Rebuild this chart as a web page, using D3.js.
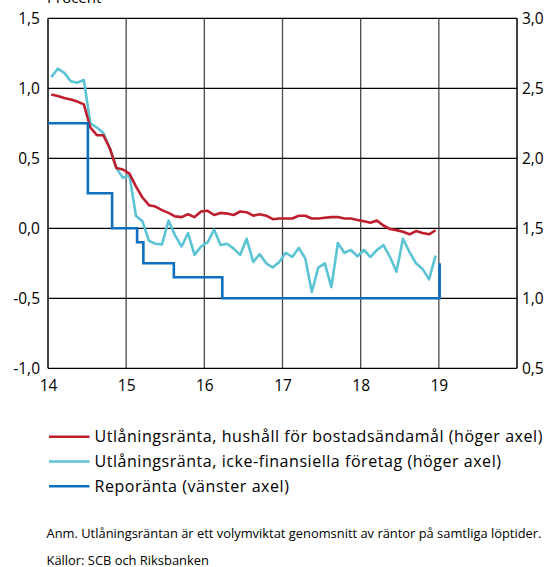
<!DOCTYPE html>
<html>
<head>
<meta charset="utf-8">
<script src="https://cdn.jsdelivr.net/npm/d3@7"></script>
<style>
  html, body { margin: 0; padding: 0; background: #fff; }
  svg { display: block; }
  text { font-family: "Open Sans", "Liberation Sans", sans-serif; fill: #000; }
</style>
</head>
<body>
<svg id="chart" width="547" height="567"></svg>
<script>
// Monthly lending rates, Jan 2014 – Dec 2018 (percent, right axis)
const householdRate = [
  2.455, 2.445, 2.43, 2.42, 2.405, 2.385, 2.22, 2.165, 2.165, 2.07, 1.93, 1.92,
  1.89, 1.80, 1.72, 1.665, 1.655, 1.63, 1.61, 1.585, 1.58, 1.60, 1.58, 1.62,
  1.625, 1.595, 1.61, 1.605, 1.595, 1.62, 1.615, 1.59, 1.60, 1.59, 1.565, 1.57,
  1.57, 1.57, 1.59, 1.59, 1.57, 1.57, 1.575, 1.58, 1.58, 1.57, 1.57, 1.56,
  1.55, 1.54, 1.555, 1.52, 1.495, 1.487, 1.475, 1.457, 1.48, 1.467, 1.457, 1.486
];
const corporateRate = [
  2.58, 2.64, 2.61, 2.55, 2.54, 2.56, 2.25, 2.22, 2.18, 2.07, 1.93, 1.86,
  1.88, 1.59, 1.55, 1.41, 1.39, 1.385, 1.555, 1.45, 1.37, 1.465, 1.31, 1.37,
  1.40, 1.49, 1.38, 1.39, 1.355, 1.31, 1.425, 1.26, 1.315, 1.25, 1.22, 1.26,
  1.325, 1.295, 1.36, 1.285, 1.045, 1.22, 1.25, 1.08, 1.395, 1.325, 1.345, 1.30,
  1.345, 1.295, 1.345, 1.38, 1.295, 1.19, 1.425, 1.33, 1.25, 1.21, 1.135, 1.305
];
const firstYear = 2014;

// Repo rate decisions (date as decimal year, percent, left axis)
const repoDates  = [14.0, 14.51, 14.82, 15.14, 15.22, 15.61, 16.23, 19.01];
const repoValues = [0.75, 0.25, 0.0, -0.10, -0.25, -0.35, -0.50, -0.25];

const leftTicks  = [-1.0, -0.5, 0.0, 0.5, 1.0, 1.5];
const rightTicks = [0.5, 1.0, 1.5, 2.0, 2.5, 3.0];
const yearTicks  = [14, 15, 16, 17, 18, 19];

const legendLabels = [
  "Utlåningsränta, hushåll för bostadsändamål (höger axel)",
  "Utlåningsränta, icke-finansiella företag (höger axel)",
  "Reporänta (vänster axel)"
];
const unitLabel = "Procent";
const noteText = "Anm. Utlåningsräntan är ett volymviktat genomsnitt av räntor på samtliga löptider.";
const sourceText = "Källor: SCB och Riksbanken";

const colors = { household: "#BE1E2D", corporate: "#5CC3D4", repo: "#0D6FBE" };

const svg = d3.select("#chart");
const plot = { left: 48, right: 517, top: 18.3, bottom: 368.3 };

const x  = d3.scaleLinear().domain([14, 20]).range([plot.left, plot.right]);
const yL = d3.scaleLinear().domain([-1, 1.5]).range([plot.bottom, plot.top]);
const yR = d3.scaleLinear().domain([0.5, 3.0]).range([plot.bottom, plot.top]);

const fmt = d => d3.format(".1f")(d).replace(".", ",").replace("\u2212", "-");

// Grid: vertical year lines
svg.append("g").selectAll("line").data(yearTicks.slice(1)).join("line")
  .attr("x1", d => x(d)).attr("x2", d => x(d))
  .attr("y1", plot.top).attr("y2", plot.bottom)
  .attr("stroke", "#4a4a4a").attr("stroke-width", 1.3);

// Grid: horizontal lines on left ticks
svg.append("g").selectAll("line").data(leftTicks).join("line")
  .attr("x1", plot.left).attr("x2", plot.right)
  .attr("y1", d => yL(d)).attr("y2", d => yL(d))
  .attr("stroke", "#000").attr("stroke-width", 1.3);

// Frame sides
svg.append("line").attr("x1", plot.left).attr("x2", plot.left)
  .attr("y1", plot.top).attr("y2", plot.bottom).attr("stroke", "#000").attr("stroke-width", 1.5);
svg.append("line").attr("x1", plot.right).attr("x2", plot.right)
  .attr("y1", plot.top).attr("y2", plot.bottom).attr("stroke", "#000").attr("stroke-width", 1.5);

// Axis labels via d3 axes
const axisFont = 15.5;
const gl = svg.append("g").attr("transform", `translate(${plot.left},0)`)
  .call(d3.axisLeft(yL).tickValues(leftTicks).tickFormat(fmt).tickSize(0).tickPadding(8));
const gr = svg.append("g").attr("transform", `translate(${plot.right},0)`)
  .call(d3.axisRight(yR).tickValues(rightTicks).tickFormat(fmt).tickSize(0).tickPadding(5));
const gb = svg.append("g").attr("transform", `translate(0,${plot.bottom})`)
  .call(d3.axisBottom(x).tickValues(yearTicks).tickFormat(d => d).tickSize(0).tickPadding(12));
[gl, gr, gb].forEach(g => {
  g.select(".domain").remove();
  g.selectAll("text").attr("font-size", axisFont)
    .attr("font-family", "'Open Sans', 'Liberation Sans', sans-serif").attr("fill", "#000");
});

svg.append("text").attr("x", 47).attr("y", 3).attr("font-size", 15).text(unitLabel);

// Series
const monthX = i => firstYear - 2000 + (i + 0.5) / 12;

const lineR = d3.line().x((d, i) => x(monthX(i))).y(d => yR(d));
svg.append("path").datum(corporateRate).attr("d", lineR)
  .attr("fill", "none").attr("stroke", colors.corporate).attr("stroke-width", 2.6)
  .attr("stroke-linejoin", "round");
svg.append("path").datum(householdRate).attr("d", lineR)
  .attr("fill", "none").attr("stroke", colors.household).attr("stroke-width", 2.6)
  .attr("stroke-linejoin", "round");

const repo = repoDates.map((t, i) => [t, repoValues[i]]);
svg.append("path").datum(repo)
  .attr("d", d3.line().curve(d3.curveStepAfter).x(d => x(d[0])).y(d => yL(d[1])))
  .attr("fill", "none").attr("stroke", colors.repo).attr("stroke-width", 2.6);

// Legend
const legendKeys = ["household", "corporate", "repo"];
const lg = svg.append("g");
legendKeys.forEach((k, i) => {
  const cy = 436.7 + i * 24.8;
  lg.append("line").attr("x1", 49).attr("x2", 89.5).attr("y1", cy).attr("y2", cy)
    .attr("stroke", colors[k]).attr("stroke-width", 2.6);
  lg.append("text").attr("x", 94.5).attr("y", cy).attr("dy", "0.35em")
    .attr("font-size", 16).attr("letter-spacing", 0.55).text(legendLabels[i]);
});

// Notes
svg.append("text").attr("x", 46.5).attr("y", 533).attr("dy", "0.35em")
  .attr("font-size", 12.9).text(noteText);
svg.append("text").attr("x", 46.5).attr("y", 560.3).attr("dy", "0.35em")
  .attr("font-size", 12.9).text(sourceText);
</script>
</body>
</html>
